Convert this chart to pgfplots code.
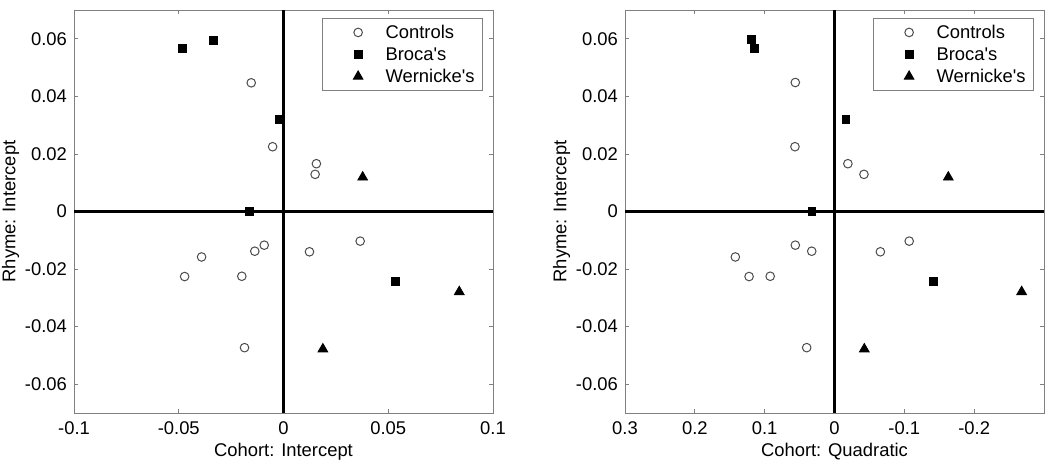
\documentclass[border=0pt]{standalone}
\usepackage{fontspec}
\setmainfont{Liberation Sans}[Ligatures=TeXOff]
\usepackage{pgfplots}
\pgfplotsset{compat=1.18}

\newcommand{\fs}{\fontsize{9.2}{11}\selectfont}

\pgfplotsset{
  mk/.style={only marks,
    legend image code/.code={\path (0pt,0pt) (31pt,0pt);
      \draw[##1] plot coordinates {(17.5pt,0pt)};}},
  ctrl/.style={mk, mark=*, mark size=2.15pt,
    mark options={fill=white, draw=black!70, line width=0.5pt}},
  broca/.style={mk, mark=square*, mark size=1.9pt,
    mark options={fill=black, draw=black}},
  wern/.style={mk, mark=triangle*, mark size=2.8pt,
    mark options={fill=black, draw=black}},
  panel/.style={
    scale only axis, width=209.5pt, height=201.5pt,
    ymin=-0.07, ymax=0.07,
    ytick={-0.06,-0.04,-0.02,0,0.02,0.04,0.06},
    scaled ticks=false,
    /pgf/number format/assume math mode=true,
    /pgf/number format/fixed,
    /pgf/number format/precision=2,
    font=\fs, tick label style={font=\fs}, label style={font=\fs},
    axis line style={black!50},
    every tick/.style={black!50},
    tick align=inside, major tick length=2pt,
    xticklabel style={anchor=base, yshift=-11pt},
    ylabel={Rhyme: Intercept},
    ylabel style={at={(axis description cs:-0.151,0.5)}, anchor=center},
    xlabel style={at={(axis description cs:0.5,0)}, anchor=base, yshift=-22pt},
    legend style={at={(rel axis cs:0.976,0.980)}, anchor=north east,
      draw=black!50, fill=white, font=\fs,
      inner xsep=0pt, inner ysep=1.5pt, column sep=0pt, row sep=0pt,
      nodes={inner sep=0pt, text height=8.5pt, text depth=2.5pt, text width=48.5pt}},
    legend cell align=left,
  }
}

\begin{document}
\begin{tikzpicture}
\path[use as bounding box] (-37pt,-26pt) rectangle (488pt,206.5pt);

\begin{axis}[panel,
  xmin=-0.1, xmax=0.1,
  xtick={-0.1,-0.05,0,0.05,0.1},
  xlabel={Cohort: Intercept}]
\draw[line width=1.4pt] (axis cs:0,-0.07) -- (axis cs:0,0.07);
\draw[line width=1.4pt] (axis cs:-0.1,0) -- (axis cs:0.1,0);
\addplot[ctrl] coordinates {
  (-0.0154,0.0447) (-0.0052,0.0225) (0.0157,0.0166) (0.0151,0.0129)
  (0.0366,-0.0103) (0.0124,-0.0140) (-0.0092,-0.0117) (-0.0137,-0.0138)
  (-0.0391,-0.0158) (-0.0472,-0.0226) (-0.0199,-0.0225) (-0.0186,-0.0473)
};
\addlegendentry{Controls}
\addplot[broca] coordinates {
  (-0.0483,0.0566) (-0.0334,0.0594) (-0.0019,0.0319) (-0.0164,0.0) (0.0533,-0.0242)
};
\addlegendentry{Broca's}
\addplot[wern] coordinates {
  (0.0378,0.0119) (0.0839,-0.0279) (0.0188,-0.0478)
};
\addlegendentry{Wernicke's}
\end{axis}

\begin{axis}[panel, at={(275.5pt,0pt)}, anchor=south west,
  x dir=reverse,
  xmin=-0.3, xmax=0.3,
  xtick={-0.2,-0.1,0,0.1,0.2,0.3},
  xlabel={Cohort: Quadratic}]
\draw[line width=1.4pt] (axis cs:0,-0.07) -- (axis cs:0,0.07);
\draw[line width=1.4pt] (axis cs:-0.3,0) -- (axis cs:0.3,0);
\addplot[ctrl] coordinates {
  (0.0561,0.0448) (0.0566,0.0225) (-0.0192,0.0166) (-0.0422,0.0129)
  (-0.107,-0.0103) (-0.0657,-0.0140) (0.0561,-0.0117) (0.0326,-0.0138)
  (0.142,-0.0158) (0.1223,-0.0226) (0.0921,-0.0225) (0.0398,-0.0473)
};
\addlegendentry{Controls}
\addplot[broca] coordinates {
  (0.119,0.0597) (0.1146,0.0566) (-0.0163,0.0319) (0.0321,0.0) (-0.142,-0.0242)
};
\addlegendentry{Broca's}
\addplot[wern] coordinates {
  (-0.163,0.0119) (-0.268,-0.0279) (-0.0427,-0.0478)
};
\addlegendentry{Wernicke's}
\end{axis}
\end{tikzpicture}
\end{document}
